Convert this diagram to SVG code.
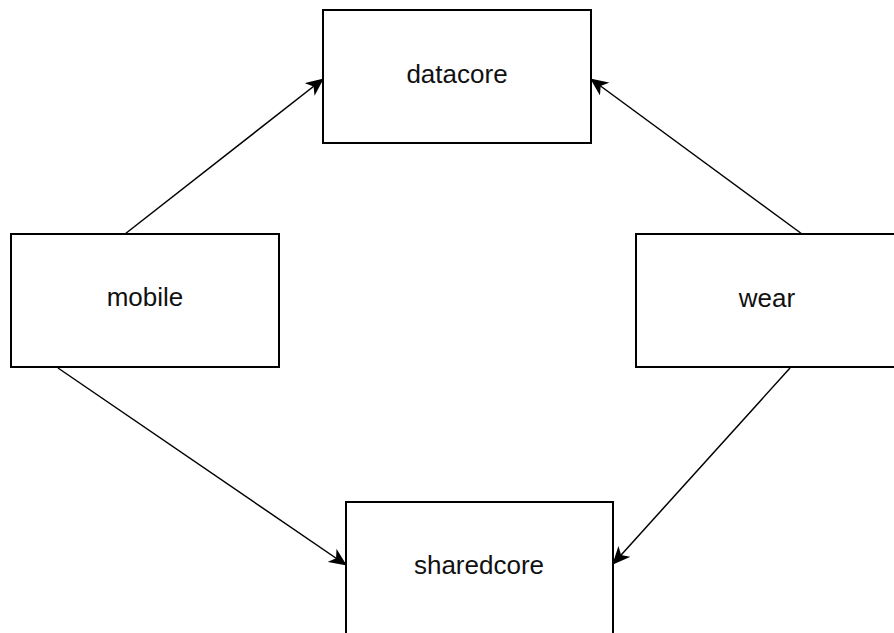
<svg xmlns="http://www.w3.org/2000/svg" width="894" height="633" viewBox="0 0 894 633">
  <style>
    .box { fill: #ffffff; stroke: #000000; stroke-width: 2; }
    .label { font-family: "Liberation Sans", Arial, Helvetica, sans-serif; font-size: 26px; fill: #111111; text-anchor: middle; }
    .edge { fill: none; stroke: #000000; stroke-width: 1.5; marker-end: url(#arrow); }
  </style>
  <defs>
    <marker id="arrow" viewBox="0 0 18 16" refX="17" refY="8" markerWidth="18" markerHeight="16" markerUnits="userSpaceOnUse" orient="auto">
      <path d="M0,0 L18,8 L0,16 L5,8 Z" fill="#000000"/>
    </marker>
  </defs>
  <rect width="894" height="633" fill="#ffffff"/>

  <g id="connectors">
    <line class="edge" x1="125" y1="234" x2="323" y2="79"/>
    <line class="edge" x1="802" y1="234" x2="591" y2="79"/>
    <line class="edge" x1="58" y1="368" x2="346" y2="565"/>
    <line class="edge" x1="790" y1="368" x2="613" y2="564"/>
  </g>

  <g id="datacore">
    <rect class="box" x="323" y="10" width="268" height="133"/>
    <text class="label" x="457" y="83">datacore</text>
  </g>
  <g id="mobile">
    <rect class="box" x="11" y="234" width="268" height="133"/>
    <text class="label" x="145" y="306">mobile</text>
  </g>
  <g id="wear">
    <rect class="box" x="636" y="234" width="268" height="133"/>
    <text class="label" x="767" y="307">wear</text>
  </g>
  <g id="sharedcore">
    <rect class="box" x="346" y="502" width="267" height="160"/>
    <text class="label" x="479" y="574">sharedcore</text>
  </g>
</svg>
